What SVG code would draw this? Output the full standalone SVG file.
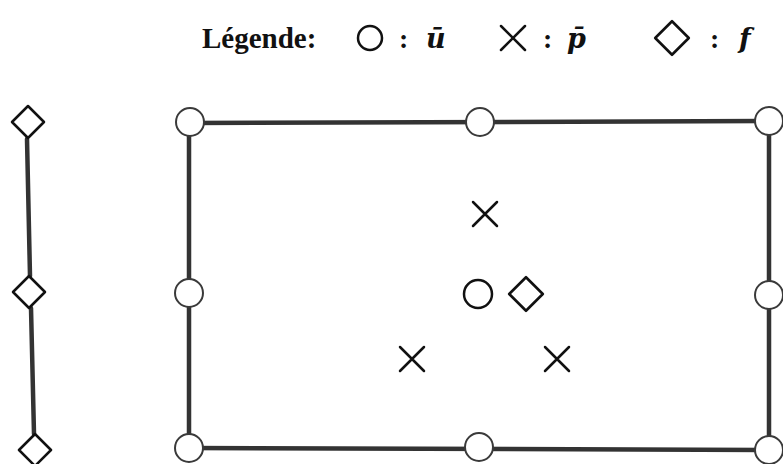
<svg xmlns="http://www.w3.org/2000/svg" width="783" height="464" viewBox="0 0 783 464">
<style>
.txt{font-family:"Liberation Serif","DejaVu Serif",serif;fill:#111}
.math{font-family:"DejaVu Serif","Liberation Serif",serif;font-style:italic;font-weight:bold;fill:#111}
.edge{stroke:#333;stroke-width:4.5;stroke-linecap:round;fill:none}
.node{fill:#fff;stroke:#3a3a3a;stroke-width:2}
.sym{fill:none;stroke:#111;stroke-width:2.5;stroke-linecap:round;stroke-linejoin:round}
</style>
<defs>
<path id="xmark" d="M-12,-12 L12,12 M-12,12 L12,-12"/>
<path id="dia" d="M0,-16 L16,0 L0,16 L-16,0 Z"/>
</defs>
<rect width="783" height="464" fill="#fff"/>
<g id="legend">
<text class="txt" x="202" y="48" font-size="29" font-weight="bold">Légende:</text>
<circle class="sym" cx="370" cy="38" r="12"/>
<text class="txt" x="399" y="48" font-size="28" font-weight="bold">:</text>
<text class="math" x="426" y="48" font-size="27">ū</text>
<use href="#xmark" class="sym" x="513" y="38"/>
<text class="txt" x="543" y="48" font-size="28" font-weight="bold">:</text>
<text class="math" x="567" y="48" font-size="27">p̄</text>
<use href="#dia" class="sym" x="672" y="38" transform="translate(672 38) scale(1.05) translate(-672 -38)"/>
<text class="txt" x="710" y="48" font-size="28" font-weight="bold">:</text>
<text class="math" x="739" y="48" font-size="27">f</text>
</g>
<g id="connectors">
<line class="edge" x1="27" y1="139" x2="30" y2="276" stroke-width="4"/>
<line class="edge" x1="31" y1="308" x2="34" y2="434" stroke-width="3.5"/>
<line class="edge" x1="189" y1="123" x2="769" y2="121"/>
<line class="edge" x1="189" y1="448" x2="769" y2="450"/>
<line class="edge" x1="189" y1="122" x2="189" y2="448"/>
<line class="edge" x1="769" y1="122" x2="769" y2="450"/>
</g>
<g id="diamond-left-top"><use href="#dia" class="sym" x="28" y="122"/></g>
<g id="diamond-left-mid"><use href="#dia" class="sym" x="29" y="292" stroke="#555" stroke-width="2"/></g>
<g id="diamond-left-bot"><use href="#dia" class="sym" x="35" y="450" stroke="#666" stroke-width="2"/></g>
<g id="node-tl"><circle class="node" cx="190" cy="122" r="14"/></g>
<g id="node-tm"><circle class="node" cx="480" cy="122" r="14"/></g>
<g id="node-tr"><circle class="node" cx="769" cy="121" r="14"/></g>
<g id="node-ml"><circle class="node" cx="189" cy="293" r="14"/></g>
<g id="node-mr"><circle class="node" cx="769" cy="295" r="14"/></g>
<g id="node-bl"><circle class="node" cx="189" cy="448" r="14"/></g>
<g id="node-bm"><circle class="node" cx="479" cy="447" r="14"/></g>
<g id="node-br"><circle class="node" cx="769" cy="450" r="14"/></g>
<g id="interior">
<use href="#xmark" class="sym" x="485" y="214"/>
<circle class="sym" cx="478" cy="294" r="14" stroke-width="3.2"/>
<use href="#dia" class="sym" x="526" y="294" transform="translate(526 294) scale(1.05) translate(-526 -294)"/>
<use href="#xmark" class="sym" x="412" y="359"/>
<use href="#xmark" class="sym" x="557" y="359"/>
</g>
</svg>
